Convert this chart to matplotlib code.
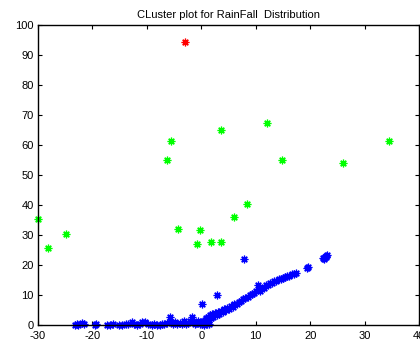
import matplotlib
matplotlib.use("Agg")
import matplotlib.pyplot as plt

plt.rcParams['font.family'] = ['Liberation Sans', 'DejaVu Sans']
plt.rcParams['axes.unicode_minus'] = False

title = "CLuster plot for RainFall  Distribution"
xticks = [-30, -20, -10, 0, 10, 20, 30, 40]
yticks = [0, 10, 20, 30, 40, 50, 60, 70, 80, 90, 100]

red_x = [-3.0]
red_y = [94.4]

green_x = [-30.0, -28.1, -24.9, -6.25, -5.5, -4.3, -0.75, -0.25, 1.8, 3.6,
           3.65, 6.06, 8.45, 12.05, 14.8, 26.1, 34.4]
green_y = [35.2, 25.7, 30.2, 55.0, 61.5, 32.0, 27.0, 31.6, 27.8, 27.8,
           65.1, 36.1, 40.2, 67.2, 55.1, 53.9, 61.2]

blue_x = [-23.2, -22.8, -22.6, -22.0, -21.6, -19.5, -19.4, -17.4, -16.8, -16.2,
          -15.2, -14.6, -13.9, -13.4, -12.8, -12.3, -11.9, -11.3, -10.9, -10.3,
          -9.8, -9.1, -8.6, -8.2, -7.6, -7.2, -6.8, -6.3, -5.75, -5.5,
          -5.2, -4.8, -4.4, -4.0, -3.6, -3.2, -2.9, -2.5, -2.1, -1.77,
          -1.5, -1.2, -0.9, -0.6, -0.3, 0.05,
          2.95, 7.85, 19.4, 19.6,
          22.3, 22.5, 22.7, 22.9, 23.1, 22.6, 23.0,
          0.2, 0.4, 0.6, 0.8, 1.0, 1.2, 1.4, 1.6, 1.8, 2.0,
          2.2, 2.5, 2.8, 3.0, 3.3, 3.6, 3.9, 4.2, 4.5, 4.8,
          5.1, 5.4, 5.8, 6.1, 6.5, 6.9, 7.3, 7.7, 8.1, 8.5,
          8.9, 9.3, 9.7, 10.1, 10.4, 10.6, 10.8, 11.1, 11.5, 11.8,
          12.2, 12.6, 13.0, 13.4, 13.8, 14.2, 14.6, 15.0, 15.4, 15.8,
          16.2, 16.6, 17.0, 17.4, 0.5, 1.0, 1.5]
blue_y = [0.0, 0.3, 0.0, 0.8, 0.2, 0.0, 0.3, 0.0, 0.0, 0.2,
          0.0, 0.0, 0.3, 0.5, 1.0, 0.2, 0.0, 0.4, 1.0, 1.0,
          0.3, 0.0, 0.2, 0.0, 0.1, 0.5, 0.3, 0.8, 2.8, 0.9,
          0.3, 1.0, 0.4, 0.6, 0.2, 1.2, 0.4, 0.8, 1.5, 2.8,
          1.0, 0.3, 0.6, 1.2, 0.2, 6.9,
          10.0, 22.0, 19.1, 19.5,
          22.2, 22.5, 22.8, 23.0, 23.3, 22.1, 22.7,
          0.5, 1.5, 0.8, 2.2, 1.2, 2.8, 1.8, 3.2, 2.2, 3.6,
          2.8, 3.9, 3.2, 4.4, 3.8, 4.8, 4.3, 5.4, 4.9, 5.8,
          5.5, 6.3, 6.1, 6.9, 7.0, 7.8, 7.9, 8.6, 8.9, 9.5,
          9.9, 10.3, 10.8, 11.2, 13.2, 12.0, 11.5, 12.5, 12.3, 13.2,
          13.3, 14.0, 14.1, 14.6, 14.8, 15.2, 15.4, 15.8, 15.9, 16.4,
          16.5, 17.0, 17.1, 17.3, 0.0, 0.2, 0.4]

fig = plt.figure(figsize=(4.2, 3.45), dpi=100)
ax = fig.add_axes([38/420, 20/345, 381/420, 300/345])

mk = (8, 2, 0)
style = dict(linestyle='none', marker=mk, markersize=5.5,
             markeredgewidth=0.9, clip_on=False)
ax.plot(blue_x, blue_y, color=(0, 0, 1), **style)
ax.plot(green_x, green_y, color=(0, 1, 0), **style)
ax.plot(red_x, red_y, color=(1, 0, 0), **style)

ax.set_xlim(-30, 40)
ax.set_ylim(0, 100)
ax.set_xticks(xticks)
ax.set_yticks(yticks)
ax.tick_params(direction='in', top=True, right=True, labelsize=8,
               length=3, width=0.8)
ax.tick_params(axis='x', pad=4)
ax.tick_params(axis='y', pad=3)
for s in ax.spines.values():
    s.set_linewidth(1.0)
ax.set_title(title, fontsize=8, pad=5)

fig.savefig("out.png", dpi=100)
